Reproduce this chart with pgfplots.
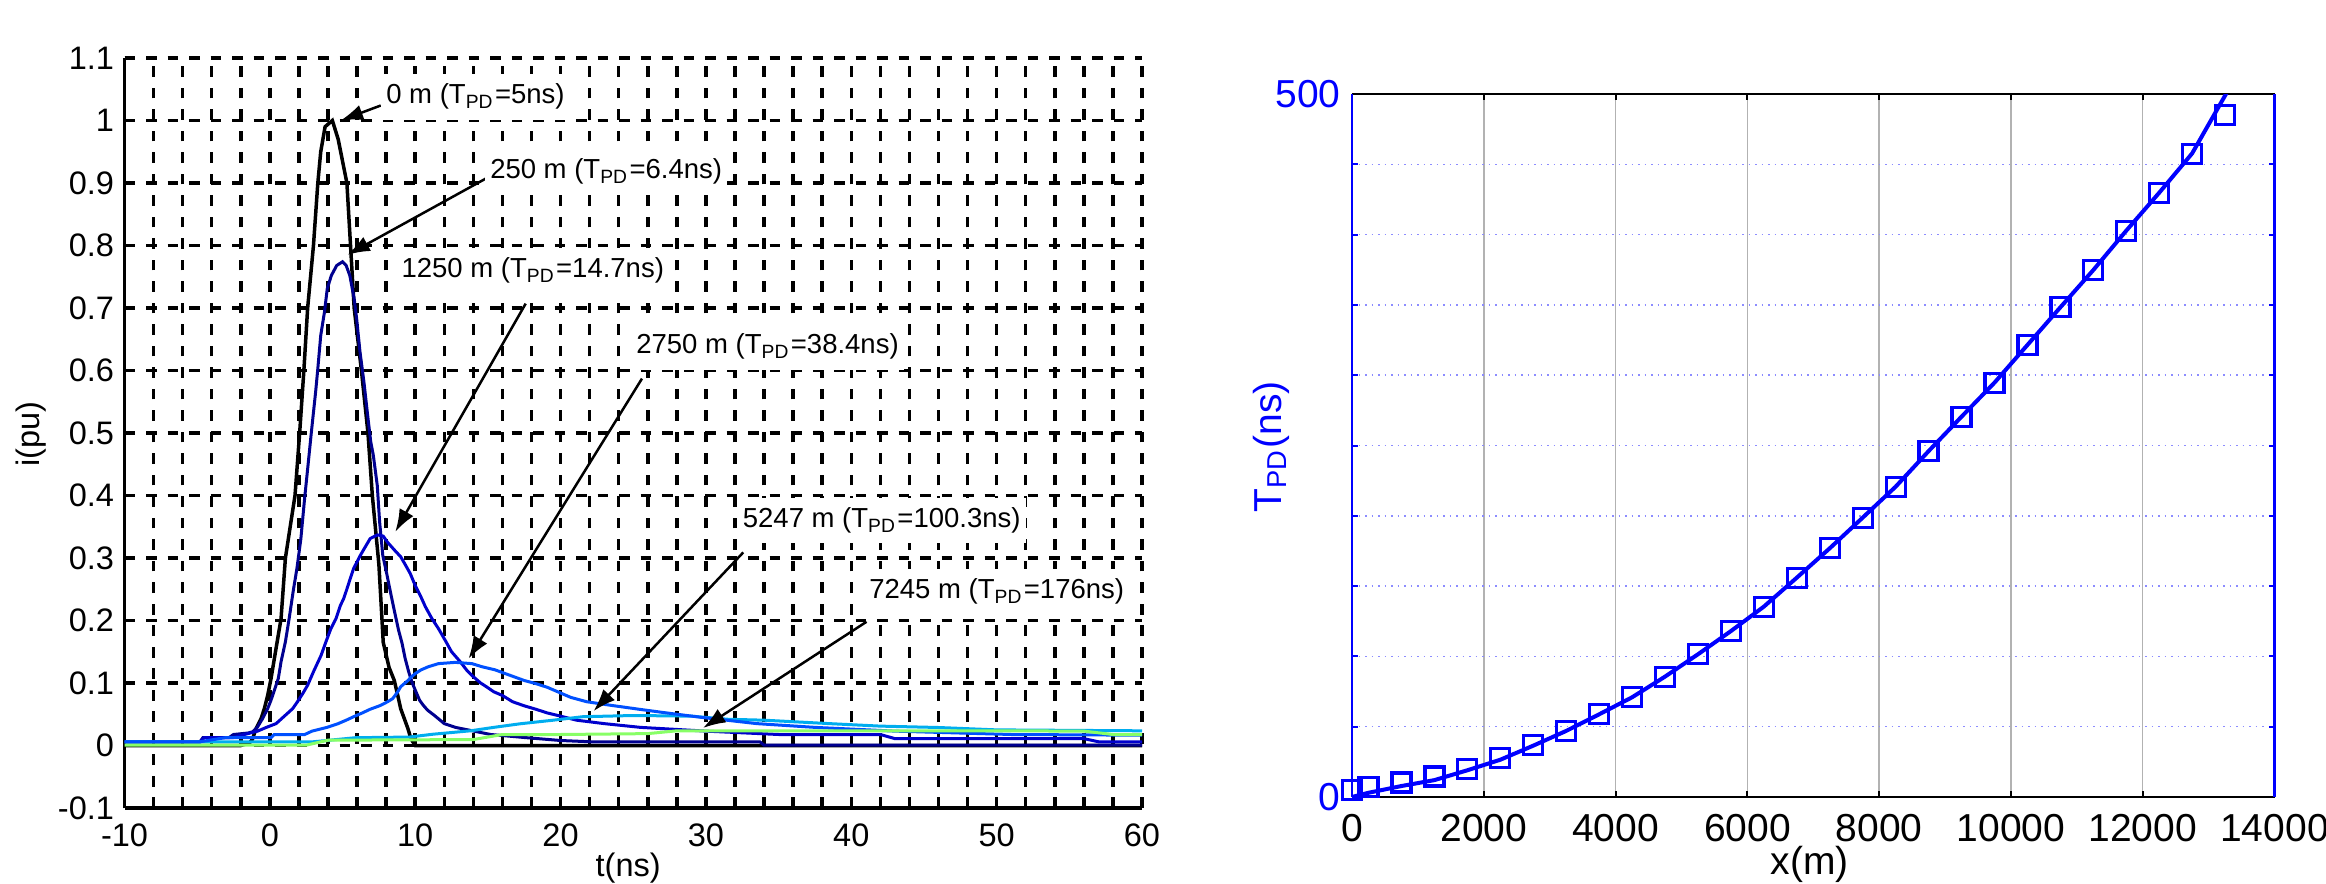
\documentclass[border=0pt]{standalone}
\usepackage{fontspec}
\setmainfont{Liberation Sans}
\usepackage{pgfplots}
\pgfplotsset{compat=1.18}
\usetikzlibrary{arrows.meta}

\definecolor{navy}{RGB}{0,0,143}
\definecolor{midblue}{RGB}{0,0,205}
\definecolor{royal}{RGB}{0,80,255}
\definecolor{lgreen}{RGB}{136,255,102}
\definecolor{mblue}{RGB}{0,0,255}

\tikzset{annot/.style={anchor=west, fill=white, inner xsep=1pt, inner ysep=2pt,
    font=\fontsize{5.5}{6}\selectfont},
  arr/.style={-{Latex[length=4.5pt,width=3.2pt]}, line width=0.5pt}}

\begin{document}
\begin{tikzpicture}
\useasboundingbox (0,0) rectangle (465.2pt,176.6pt);
\clip (0,0) rectangle (465.2pt,176.6pt);

% left: current waveforms
\begin{axis}[
    at={(24.9pt,15pt)}, anchor=south west,
    scale only axis, width=203.5pt, height=150pt,
    xmin=-10, xmax=60, ymin=-0.1, ymax=1.1,
    axis x line*=bottom, axis y line*=left,
    axis line style={black, line width=0.75pt, -},
    xtick={-10,0,10,20,30,40,50,60}, minor x tick num=4,
    xticklabels={-10,0,10,20,30,40,50,60},
    ytick={-0.1,0,0.1,0.2,0.3,0.4,0.5,0.6,0.7,0.8,0.9,1,1.1},
    yticklabels={-0.1,0,0.1,0.2,0.3,0.4,0.5,0.6,0.7,0.8,0.9,1,1.1},
    tick align=inside, major tick length=2pt, minor tick length=2pt,
    tick style={black, line width=0.7pt},
    grid=both,
    major grid style={black, line width=0.7pt, dash pattern=on 2.15pt off 2.15pt},
    minor grid style={black, line width=0.7pt, dash pattern=on 2.15pt off 2.15pt},
    ticklabel style={font=\fontsize{6.5}{7}\selectfont, inner sep=0pt},
    xticklabel style={anchor=north, yshift=-3pt},
    yticklabel style={anchor=east, xshift=-1.9pt},
    xlabel={t(ns)}, ylabel={i(pu)},
    label style={font=\fontsize{6.5}{7}\selectfont},
    xlabel style={at={(axis description cs:0.495,0)}, anchor=base, yshift=-13.6pt},
    ylabel style={at={(axis description cs:-0.0919,0.499)}, anchor=center},
  ]
  % 0 m
  \addplot[black, line width=0.7pt] coordinates {
    (-10,0) (-2,0) (-1.4,0.004) (-1.2,0.01) (-0.95,0.027) (-0.6,0.043) (-0.38,0.059)
    (-0.15,0.08) (0.08,0.107) (0.31,0.139) (0.54,0.171) (0.77,0.203) (1.07,0.3)
    (1.73,0.4) (2.05,0.5) (2.34,0.6) (2.6,0.7) (3.0,0.8) (3.3,0.9) (3.5,0.95)
    (3.8,0.99) (4.3,1.0) (4.7,0.97) (5.3,0.9) (5.55,0.8) (5.8,0.7) (6.3,0.6)
    (6.75,0.5) (7.05,0.4) (7.5,0.29) (7.67,0.22) (7.8,0.165) (8.2,0.125)
    (8.56,0.104) (8.8,0.08) (9.0,0.059) (9.25,0.043) (9.5,0.027) (9.7,0.011)
    (10.0,0) (60,0)};
  % 250 m
  \addplot[navy, line width=0.6pt] coordinates {
    (-10,0.006) (-4.8,0.006) (-4.6,0.0128) (-2.8,0.0128) (-2.5,0.0176) (-1.5,0.02)
    (-1.18,0.022) (-0.84,0.03) (-0.5,0.043) (-0.15,0.059) (0.08,0.0725) (0.31,0.0885)
    (0.58,0.107) (0.77,0.134) (1.07,0.166) (1.34,0.205) (1.6,0.246) (1.86,0.283)
    (2.13,0.33) (2.39,0.395) (2.65,0.454) (2.85,0.5) (3.15,0.566) (3.3,0.603)
    (3.5,0.656) (3.76,0.694) (3.95,0.731) (4.23,0.752) (4.6,0.768) (5.0,0.774)
    (5.25,0.768) (5.5,0.752) (5.8,0.715) (5.97,0.683) (6.2,0.63) (6.47,0.582)
    (6.73,0.528) (6.94,0.486) (7.12,0.464) (7.39,0.416) (7.55,0.358) (7.77,0.304)
    (8.03,0.276) (8.3,0.245) (8.57,0.215) (8.85,0.185) (9.1,0.163) (9.3,0.14)
    (9.55,0.118) (9.8,0.1) (10.05,0.086) (10.3,0.0725) (10.55,0.0645) (10.85,0.0565)
    (11.3,0.0485) (12.0,0.035) (12.8,0.0288) (15.2,0.0176) (17.5,0.0128) (20,0.008)
    (22,0.006) (33.7,0.006) (34,0.0005) (60,0.0005)};
  % 1250 m
  \addplot[midblue, line width=0.6pt] coordinates {
    (-10,0.006) (-4.8,0.006) (-4.5,0.0128) (-2.5,0.0128) (-1.75,0.0176) (-0.84,0.023)
    (-0.26,0.0288) (0.43,0.035) (1.0,0.047) (1.57,0.059) (1.9,0.07) (2.26,0.083)
    (2.6,0.0965) (3.0,0.118) (3.52,0.144) (3.86,0.166) (4.2,0.187) (4.55,0.203)
    (4.85,0.224) (5.08,0.235) (5.31,0.251) (5.53,0.267) (5.76,0.283) (6.0,0.294)
    (6.22,0.304) (6.57,0.318) (6.9,0.331) (7.4,0.337) (7.8,0.335) (8.1,0.325)
    (8.6,0.312) (9.0,0.302) (9.3,0.29) (9.66,0.275) (10.0,0.256) (10.35,0.24)
    (10.7,0.222) (11.15,0.203) (11.6,0.187) (12.07,0.168) (12.5,0.15) (13.1,0.134)
    (13.56,0.12) (14.0,0.11) (14.5,0.1) (14.9,0.094) (15.4,0.086) (16.0,0.08)
    (16.7,0.07) (17.5,0.0635) (18.3,0.058) (19.1,0.052) (20.0,0.047) (21.1,0.0405)
    (23,0.035) (25.5,0.029) (30,0.023) (35,0.0176) (42,0.0176) (43,0.011)
    (56,0.011) (57,0.006) (60,0.006)};
  % 5247 m
  \addplot[cyan, line width=0.6pt] coordinates {
    (-10,0.006) (3,0.006) (5.9,0.0125) (9.6,0.0135) (11.2,0.018) (13.8,0.0235)
    (15.4,0.029) (17.2,0.0347) (19.5,0.0405) (21.5,0.046) (25,0.048) (29,0.047)
    (31.5,0.042) (34,0.0405) (38.5,0.035) (42,0.031) (46,0.0288) (50,0.025)
    (60,0.0235)};
  % 2750 m
  \addplot[royal, line width=0.6pt] coordinates {
    (-10,0.006) (-4.8,0.006) (-3,0.0128) (0.1,0.0128) (0.3,0.0176) (2.4,0.0176)
    (2.9,0.023) (3.9,0.0288) (4.7,0.035) (5.3,0.041) (5.85,0.047) (6.35,0.052)
    (6.9,0.058) (7.6,0.064) (8.1,0.07) (8.45,0.075) (8.8,0.086) (9.0,0.094)
    (9.5,0.104) (9.7,0.109) (10.0,0.115) (10.4,0.121) (10.9,0.126) (11.6,0.131)
    (12.75,0.133) (13.9,0.131) (14.6,0.126) (15.5,0.121) (16.2,0.115) (17.5,0.104)
    (18.3,0.099) (19.1,0.093) (19.6,0.088) (20.1,0.083) (20.7,0.077) (21.8,0.07)
    (23.4,0.0645) (25.4,0.058) (27,0.053) (29.7,0.045) (33.5,0.035) (37.5,0.029)
    (43,0.023) (51,0.0176) (60,0.0165)};
  % 7245 m
  \addplot[lgreen, line width=0.6pt] coordinates {
    (-10,0.0005) (2.5,0.0005) (4,0.0085) (14,0.0095) (16,0.0176) (20,0.0176)
    (26,0.019) (28,0.0235) (50,0.0235) (56,0.023) (58,0.0176) (60,0.0176)};

  \draw[arr] (axis cs:7.63,1.024) -- (axis cs:4.87,1.0);
  \draw[arr] (axis cs:14.85,0.907) -- (axis cs:5.33,0.785);
  \draw[arr] (axis cs:17.6,0.707) -- (axis cs:8.63,0.342);
  \draw[arr] (axis cs:25.6,0.587) -- (axis cs:13.67,0.139);
  \draw[arr] (axis cs:32.57,0.309) -- (axis cs:22.27,0.055);
  \draw[arr] (axis cs:41.05,0.198) -- (axis cs:29.8,0.028);

  \node[annot] at (axis cs:7.6,1.038) {0 m (T\textsubscript{PD}=5ns)};
  \node[annot] at (axis cs:14.75,0.918) {250 m (T\textsubscript{PD}=6.4ns)};
  \node[annot] at (axis cs:8.65,0.76) {1250 m (T\textsubscript{PD}=14.7ns)};
  \node[annot] at (axis cs:24.8,0.638) {2750 m (T\textsubscript{PD}=38.4ns)};
  \node[annot] at (axis cs:32.13,0.36) {5247 m (T\textsubscript{PD}=100.3ns)};
  \node[annot] at (axis cs:40.83,0.246) {7245 m (T\textsubscript{PD}=176ns)};
\end{axis}

% right: T_PD versus distance
\begin{axis}[
    at={(270.4pt,17.2pt)}, anchor=south west,
    scale only axis, width=184.5pt, height=140.6pt,
    xmin=0, xmax=14000, ymin=0, ymax=500,
    separate axis lines,
    x axis line style={black, line width=0.4pt},
    y axis line style={mblue, line width=0.45pt},
    xtick={0,2000,4000,6000,8000,10000,12000,14000},
    xticklabels={0,2000,4000,6000,8000,10000,12000,14000},
    scaled x ticks=false, scaled y ticks=false,
    ytick={0,50,100,150,200,250,300,350,400,450,500},
    yticklabels={0,,,,,,,,,,500},
    tick align=inside, major tick length=1.2pt,
    xtick style={black, line width=0.4pt},
    ytick style={mblue, line width=0.4pt},
    grid=major,
    x grid style={gray!60, line width=0.3pt},
    y grid style={mblue!45, line width=0.3pt, densely dotted},
    ticklabel style={font=\fontsize{7.8}{9}\selectfont, inner sep=0pt},
    xticklabel style={anchor=north, yshift=-3.2pt},
    yticklabel style={anchor=east, xshift=-2.1pt, text=mblue},
    xlabel={x(m)}, ylabel={T\textsubscript{PD}(ns)},
    label style={font=\fontsize{7.8}{9}\selectfont},
    xlabel style={at={(axis description cs:0.4964,0)}, anchor=base, yshift=-15.4pt},
    ylabel style={at={(axis description cs:-0.0878,0.498)}, anchor=center, text=mblue},
  ]
  \addplot[mblue, line width=0.8pt] coordinates {
    (0,0) (250,3) (750,7.8) (1250,12) (1750,19) (2250,26.5) (2750,36.5) (3250,47)
    (3750,58.8) (4250,70.9) (4750,85.6) (5250,101.5) (5750,118) (6250,135.4)
    (6750,156) (7250,176.9) (7750,198.7) (8250,220.7) (8750,246) (9250,270.5)
    (9750,294.7) (10250,321.5) (10750,348.3) (11250,374.8) (11750,402.8)
    (12250,429.8) (12750,457.8) (13263,500) (13400,511)};
  \addplot[mblue, only marks, mark=square, mark size=1.9pt,
    mark options={line width=0.65pt}] coordinates {
    (0,5) (250,7.3) (750,10.4) (1250,14.5) (1750,19.9) (2250,27.5) (2750,37)
    (3250,47.2) (3750,58.8) (4250,70.9) (4750,85.6) (5250,101.5) (5750,118)
    (6250,135.4) (6750,156) (7250,176.9) (7750,198.7) (8250,220.7) (8750,246)
    (9250,270.5) (9750,294.7) (10250,321.5) (10750,348.3) (11250,374.8)
    (11750,402.8) (12250,429.8) (12750,457.5) (13250,485)};
\end{axis}
\end{tikzpicture}
\end{document}
